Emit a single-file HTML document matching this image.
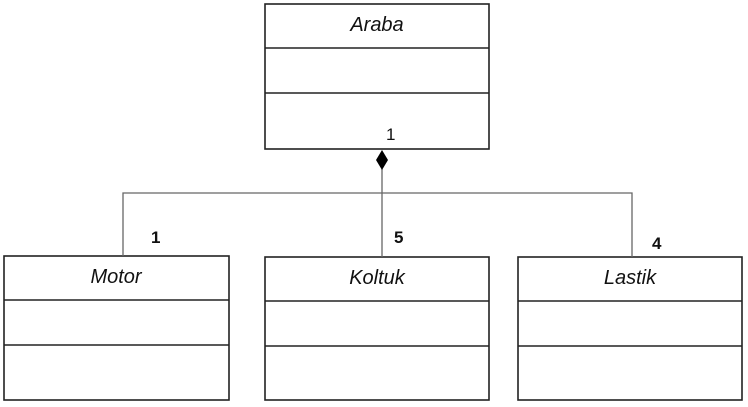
<!DOCTYPE html>
<html><head><style>
body{margin:0;background:#fff;width:748px;height:407px;overflow:hidden}
svg{display:block}
text{font-family:"Liberation Sans",sans-serif}
</style></head><body>
<svg width="748" height="407" viewBox="0 0 748 407">
<g fill="none" stroke="#222" stroke-width="1.6">
<rect x="265" y="4" width="224" height="145"/>
<line x1="265" y1="48" x2="489" y2="48"/>
<line x1="265" y1="93" x2="489" y2="93"/>
<rect x="4" y="256" width="225" height="144"/>
<line x1="4" y1="300" x2="229" y2="300"/>
<line x1="4" y1="345" x2="229" y2="345"/>
<rect x="265" y="257" width="224" height="143"/>
<line x1="265" y1="301" x2="489" y2="301"/>
<line x1="265" y1="346" x2="489" y2="346"/>
<rect x="518" y="257" width="224" height="143"/>
<line x1="518" y1="301" x2="742" y2="301"/>
<line x1="518" y1="346" x2="742" y2="346"/>
</g>
<g fill="none" stroke="#666" stroke-width="1.3">
<line x1="382" y1="169" x2="382" y2="257"/>
<polyline points="123,256 123,193 632,193 632,257"/>
</g>
<polygon points="382,150 388,160 382,170 376,160" fill="#000"/>
<g font-size="20" font-style="italic" text-anchor="middle" fill="#111">
<text x="377" y="31">Araba</text>
<text x="116" y="283">Motor</text>
<text x="377" y="284">Koltuk</text>
<text x="630" y="284">Lastik</text>
</g>
<g font-size="17" fill="#111">
<text x="386" y="140">1</text>
<text x="151" y="243" font-weight="bold">1</text>
<text x="394" y="243" font-weight="bold">5</text>
<text x="652" y="249" font-weight="bold">4</text>
</g>
</svg>
</body></html>
